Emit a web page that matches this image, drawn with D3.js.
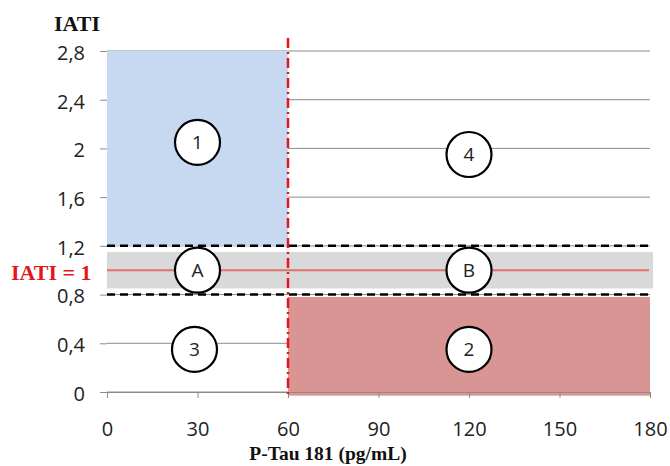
<!DOCTYPE html>
<html>
<head>
<meta charset="utf-8">
<script src="https://cdn.jsdelivr.net/npm/d3@7"></script>
<style>
  body { margin: 0; background: #fff; }
  .tick text { font-family: "Open Sans", "Noto Sans", sans-serif; font-size: 20px; fill: #222; }
</style>
</head>
<body>
<div id="chart"></div>
<script>
// axis ticks
let xTicks = [0, 30, 60, 90, 120, 150, 180];
let yTicks = [0, 0.4, 0.8, 1.2, 1.6, 2, 2.4, 2.8];

// zone limits [x0, x1, y0, y1] in data units
let blueZone = [0, 60, 1.2, 2.8];
let redZone = [60, 180, -0.03, 0.78];
let grayBand = [0, 181, 0.85, 1.15];
let cutoffs = [0.8, 1.2];
let tauCutoff = 60;
let iatiRef = 1;

// circled labels
let zoneLabels = ['1', '4', 'A', 'B', '3', '2'];
let zoneX = [30, 120, 30, 120, 29, 120];
let zoneY = [2.05, 1.95, 1, 1, 0.35, 0.35];

let svgWidth = 670;
let svgHeight = 466;
let margin = { top: 51, right: 20, bottom: 74, left: 107 };
let width = svgWidth - margin.left - margin.right;
let height = svgHeight - margin.top - margin.bottom;

let svg = d3.select('#chart').append('svg')
  .attr('width', svgWidth)
  .attr('height', svgHeight);

let g = svg.append('g')
  .attr('transform', `translate(${margin.left}, ${margin.top})`);

let x = d3.scaleLinear().domain([0, 180]).range([0, width]);
let y = d3.scaleLinear().domain([0, 2.8]).range([height, 0]);

// gridlines
g.append('g')
  .selectAll('line')
  .data(yTicks)
  .enter()
  .append('line')
  .attr('x1', 0)
  .attr('x2', width)
  .attr('y1', d => y(d))
  .attr('y2', d => y(d))
  .attr('stroke', '#8c8c8c')
  .attr('stroke-width', 1);

// coloured zones
function zoneRect(z, color) {
  g.append('rect')
    .attr('x', x(z[0]))
    .attr('y', y(z[3]))
    .attr('width', x(z[1]) - x(z[0]))
    .attr('height', y(z[2]) - y(z[3]))
    .attr('fill', color);
}
zoneRect(blueZone, '#c6d9f0');
zoneRect(redZone, '#d99594');
zoneRect(grayBand, '#d9d9d9');

// IATI = 1 line
g.append('line')
  .attr('x1', x(0))
  .attr('x2', x(179.7))
  .attr('y1', y(iatiRef))
  .attr('y2', y(iatiRef))
  .attr('stroke', '#e0706c')
  .attr('stroke-width', 2);

// dashed cutoffs
g.selectAll('.cut')
  .data(cutoffs)
  .enter()
  .append('line')
  .classed('cut', true)
  .attr('x1', x(0))
  .attr('x2', x(180.5))
  .attr('y1', d => y(d))
  .attr('y2', d => y(d))
  .attr('stroke', '#000')
  .attr('stroke-width', 2.5)
  .attr('stroke-dasharray', '8,5');

// axes
let leftAxis = d3.axisLeft(y)
  .tickValues(yTicks)
  .tickSize(7)
  .tickPadding(15)
  .tickFormat(d => String(d).replace('.', ','));
let bottomAxis = d3.axisBottom(x)
  .tickValues(xTicks)
  .tickSize(6)
  .tickPadding(24);

let yAxis = g.append('g').call(leftAxis);
yAxis.select('.domain').remove();
yAxis.selectAll('.tick line').attr('stroke', '#8c8c8c');
yAxis.selectAll('.tick text').attr('dy', '0.42em');

let xAxis = g.append('g')
  .attr('transform', `translate(0, ${height})`)
  .call(bottomAxis);
xAxis.select('.domain').attr('stroke', '#8c8c8c').attr('d', `M0,0.5H${width}`);
xAxis.selectAll('.tick line').attr('stroke', '#8c8c8c');

// vertical cutoff
g.append('line')
  .attr('x1', x(tauCutoff))
  .attr('x2', x(tauCutoff))
  .attr('y1', -13)
  .attr('y2', height + 4)
  .attr('stroke', '#e8141b')
  .attr('stroke-width', 2.5)
  .attr('stroke-dasharray', '10,4,2,4');

// circled zone labels
let marks = g.selectAll('.zone')
  .data(zoneLabels)
  .enter()
  .append('g')
  .classed('zone', true)
  .attr('transform', (d, i) => `translate(${x(zoneX[i])}, ${y(zoneY[i])})`);

marks.append('circle')
  .attr('r', 22.5)
  .attr('fill', '#fff')
  .attr('stroke', '#000')
  .attr('stroke-width', 2.2);

marks.append('text')
  .attr('text-anchor', 'middle')
  .attr('dy', '0.36em')
  .attr('font-family', '"Open Sans", "Noto Sans", sans-serif')
  .attr('font-size', '19px')
  .attr('fill', '#222')
  .text(d => d);

// titles
svg.append('text')
  .attr('x', 54)
  .attr('y', 31)
  .attr('font-family', '"Liberation Serif", serif')
  .attr('font-weight', 'bold')
  .attr('font-size', '22px')
  .attr('fill', '#111')
  .text('IATI');

svg.append('text')
  .attr('x', 11)
  .attr('y', 280)
  .attr('font-family', '"Liberation Serif", serif')
  .attr('font-weight', 'bold')
  .attr('font-size', '22px')
  .attr('fill', '#e8141b')
  .text('IATI = 1');

svg.append('text')
  .attr('x', 328)
  .attr('y', 460)
  .attr('text-anchor', 'middle')
  .attr('font-family', '"Liberation Serif", serif')
  .attr('font-weight', 'bold')
  .attr('font-size', '19.5px')
  .attr('fill', '#111')
  .text('P-Tau 181 (pg/mL)');
</script>
</body>
</html>
